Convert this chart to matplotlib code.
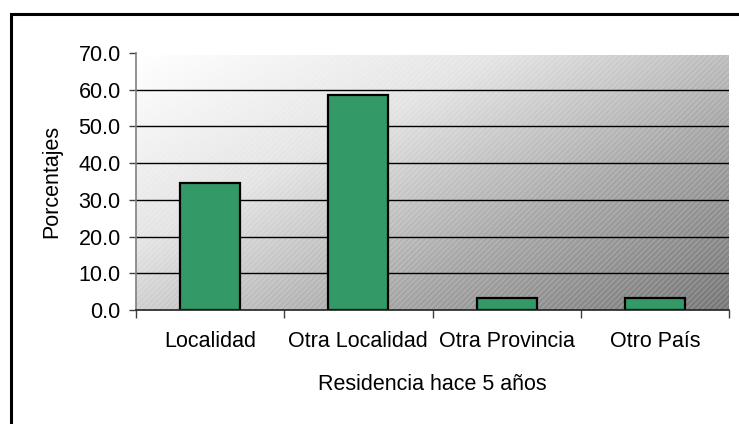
import numpy as np
import matplotlib
matplotlib.use("Agg")
import matplotlib.pyplot as plt
from matplotlib.patches import Rectangle
from matplotlib.colors import LinearSegmentedColormap

categories = ["Localidad", "Otra Localidad", "Otra Provincia", "Otro País"]
values = [34.6, 58.6, 3.2, 3.2]
yticks = [0, 10, 20, 30, 40, 50, 60, 70]
ytick_labels = ["0.0", "10.0", "20.0", "30.0", "40.0", "50.0", "60.0", "70.0"]

plt.rcParams['font.family'] = ['Liberation Sans', 'DejaVu Sans']
W, H = 739, 424
fig = plt.figure(figsize=(W / 100, H / 100), dpi=100)
fig.patch.set_facecolor("white")

FS = 15.5

# outer frame (cropped at right/bottom)
fig.add_artist(Rectangle((11 / W, -0.1), 1.2, (H - 14) / H + 0.1,
                         transform=fig.transFigure, fill=False,
                         edgecolor="black", linewidth=2.2, zorder=0))

left, right, top, bottom = 136, 729, 53, 310
ax = fig.add_axes([left / W, 1 - bottom / H, (right - left) / W, (bottom - top) / H])

n = len(categories)
x = np.arange(n)
ax.set_xlim(-0.5, n - 0.5)
ax.set_ylim(0, 70)

# gradient background
gx = np.linspace(0, 1, 300)
gy = np.linspace(0, 1, 200)
GX, GY = np.meshgrid(gx, gy)
Z = (GX * 0.55 + GY * 0.45)
cmap = LinearSegmentedColormap.from_list("g", ["#ffffff", "#e4e4e4", "#a6a6a6", "#767676"])
ax.imshow(Z, extent=(-0.5, n - 0.5, 0, 69.4), origin="upper", cmap=cmap,
          aspect="auto", zorder=0, interpolation="bilinear")
ax.add_patch(Rectangle((-0.5, 0), n, 69.4, fill=False, hatch="//////",
                       edgecolor=(1, 1, 1, 0.18), linewidth=0, zorder=0.5))

for yv in yticks[1:-1]:
    ax.axhline(yv, color="black", linewidth=1.0, zorder=1)

ax.bar(x, values, width=0.405, color="#339966", edgecolor="black",
       linewidth=1.6, zorder=2)

ax.set_yticks(yticks)
ax.set_yticklabels(ytick_labels, fontsize=FS)
ax.set_xticks(np.arange(n + 1) - 0.5)
ax.set_xticklabels([])
ax.set_xticks(x, minor=True)
ax.set_xticklabels(categories, minor=True, fontsize=FS)
ax.tick_params(axis="x", which="minor", length=0, pad=15)
ax.tick_params(axis="x", which="major", length=6, width=1, color="#404040", direction="out")
ax.tick_params(axis="y", length=5, width=1, color="#404040", direction="out", pad=6)

for s in ["top", "right"]:
    ax.spines[s].set_visible(False)
ax.spines["left"].set_color("#808080")
ax.spines["left"].set_linewidth(1.2)
ax.spines["bottom"].set_color("#202020")
ax.spines["bottom"].set_linewidth(1.2)
ax.set_facecolor("none")

ax.set_xlabel("Residencia hace 5 años", fontsize=FS, labelpad=16)
ax.set_ylabel("Porcentajes", fontsize=FS, labelpad=12)

fig.savefig("out.png", dpi=100)
